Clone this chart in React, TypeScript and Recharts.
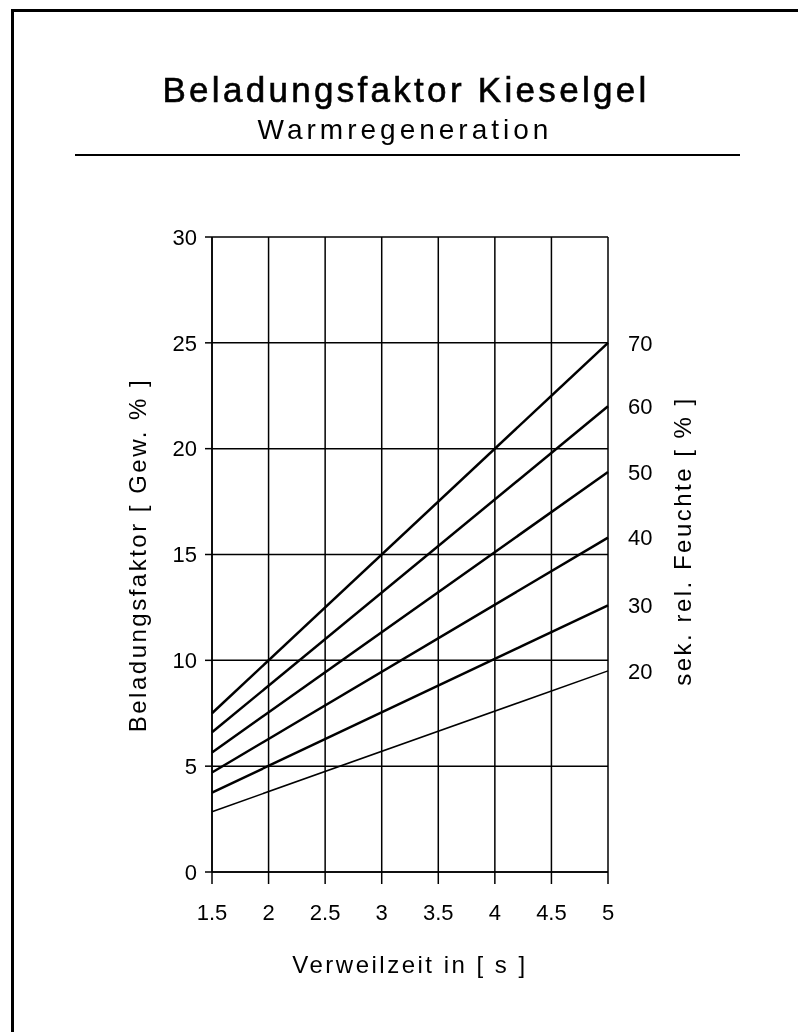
import { LineChart, Line, XAxis, YAxis, CartesianGrid } from 'recharts'

// Verweilzeit [s] at the two ends of each straight line
const verweilzeit = [1.5, 5]

// Beladungsfaktor [Gew. %] per relative humidity curve
const feuchte70 = [7.5, 25]
const feuchte60 = [6.6, 22]
const feuchte50 = [5.65, 18.9]
const feuchte40 = [4.7, 15.8]
const feuchte30 = [3.75, 12.6]
const feuchte20 = [2.85, 9.5]

const feuchteLabels = ['70', '60', '50', '40', '30', '20']
const xTicks = [1.5, 2, 2.5, 3, 3.5, 4, 4.5, 5]
const yTicks = [0, 5, 10, 15, 20, 25, 30]

const series = [feuchte70, feuchte60, feuchte50, feuchte40, feuchte30, feuchte20]
const widths = [2.5, 2.5, 2.5, 2.5, 2.5, 1.5]

const data = verweilzeit.map((t, i) => {
    const row: Record<string, number> = { t }
    series.forEach((s, k) => {
        row['f' + feuchteLabels[k]] = s[i]
    })
    return row
})

const font = '"Liberation Sans", Arial, sans-serif'

const endLabel = (text: string) => (props: any) => {
    const { x, y, index } = props
    if (index !== verweilzeit.length - 1) return null
    return (
        <text x={x + 20} y={y} dy="0.36em" fontSize={22} fontFamily={font} fill="#000">
            {text}
        </text>
    )
}

const axisTitle = { whiteSpace: 'nowrap' as const, fontSize: 24, letterSpacing: 2.5 }

export default function App() {
    return (
        <div style={{ position: 'relative', width: 782, height: 1016, fontFamily: font, color: '#000' }}>
            <div style={{ position: 'fixed', left: 11, top: 9, right: 0, bottom: 0, borderLeft: '3px solid #000', borderTop: '3px solid #000' }} />
            <div style={{ position: 'absolute', left: 398, top: 62, transform: 'translateX(-50%)', whiteSpace: 'nowrap', fontSize: 35, letterSpacing: 3.3, WebkitTextStroke: '0.6px #000' }}>
                Beladungsfaktor Kieselgel
            </div>
            <div style={{ position: 'absolute', left: 397, top: 106, transform: 'translateX(-50%)', whiteSpace: 'nowrap', fontSize: 28, letterSpacing: 4 }}>
                Warmregeneration
            </div>
            <div style={{ position: 'absolute', left: 67, top: 146, width: 665, height: 2, background: '#000' }} />

            <div style={{ position: 'absolute', left: 0, top: 0 }}>
                <LineChart width={782} height={1016} data={data} margin={{ top: 229, right: 182, bottom: 112, left: 144 }}>
                    <CartesianGrid stroke="#000" strokeWidth={1.5} strokeOpacity={1} horizontalValues={yTicks} verticalValues={xTicks} />
                    <XAxis
                        dataKey="t"
                        type="number"
                        domain={[1.5, 5]}
                        ticks={xTicks}
                        height={40}
                        stroke="#000"
                        strokeWidth={1.5}
                        tickSize={12}
                        tickMargin={20}
                        tick={{ fill: '#000', fontSize: 22, fontFamily: font }}
                    />
                    <YAxis
                        type="number"
                        domain={[0, 30]}
                        ticks={yTicks}
                        width={60}
                        stroke="#000"
                        strokeWidth={1.5}
                        tickSize={7}
                        tickMargin={8}
                        tick={{ fill: '#000', fontSize: 22, fontFamily: font }}
                    />
                    {feuchteLabels.map((lab, k) => (
                        <Line
                            key={lab}
                            dataKey={'f' + lab}
                            stroke="#000"
                            strokeWidth={widths[k]}
                            dot={false}
                            isAnimationActive={false}
                            label={endLabel(lab)}
                        />
                    ))}
                </LineChart>
            </div>

            <div style={{ ...axisTitle, position: 'absolute', left: 130, top: 547, transform: 'translate(-50%, -50%) rotate(-90deg)' }}>
                Beladungsfaktor [ Gew. % ]
            </div>
            <div style={{ ...axisTitle, position: 'absolute', left: 675, top: 533, transform: 'translate(-50%, -50%) rotate(-90deg)' }}>
                sek. rel. Feuchte [ % ]
            </div>
            <div style={{ ...axisTitle, position: 'absolute', left: 402, top: 957, transform: 'translate(-50%, -50%)' }}>
                Verweilzeit in [ s ]
            </div>
        </div>
    )
}
